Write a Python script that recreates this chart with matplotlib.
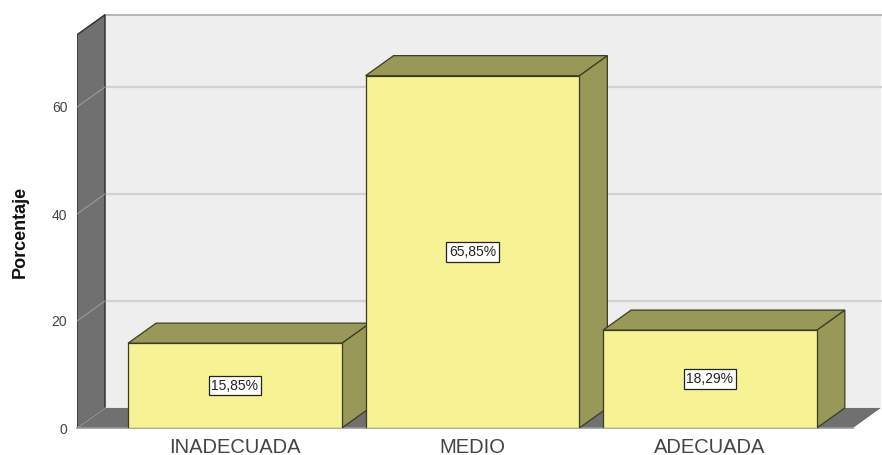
import matplotlib
matplotlib.use('Agg')
import matplotlib.pyplot as plt
from matplotlib.patches import Polygon

categories = ['INADECUADA', 'MEDIO', 'ADECUADA']
percentages = [15.85, 65.85, 18.29]
value_labels = ['15,85%', '65,85%', '18,29%']
y_ticks = [0, 20, 40, 60]

plt.rcParams['font.family'] = ['Liberation Sans', 'DejaVu Sans']

# 3d look: depth offset in data units
DX, DY = 0.118, 3.75
HALF = 0.45
X0, XR = -0.665, 2.602
WALL_TOP = 73.5

FRONT = '#f7f294'
SHADE = '#989858'
EDGE = '#3c3c22'
WALL = '#707070'

fig = plt.figure(figsize=(8.82, 4.55), dpi=100)
ax = fig.add_axes([77 / 882, 27 / 455, 805 / 882, 416 / 455])
ax.set_xlim(X0, X0 + 805 / 237.5)
ax.set_ylim(0, 416 / 5.35)
for s in ax.spines.values():
    s.set_visible(False)

# back wall + gridlines
ax.add_patch(Polygon([(X0 + DX, DY), (XR + DX, DY), (XR + DX, WALL_TOP + DY),
                      (X0 + DX, WALL_TOP + DY)], closed=True, facecolor='#eeeeee',
                     edgecolor='none', zorder=1))
ax.plot([X0 + DX, XR + DX], [WALL_TOP + DY] * 2, color='#b8b8b8', lw=1.5, zorder=2)
for v in y_ticks[1:]:
    ax.plot([X0 + DX, XR + DX], [v + DY] * 2, color='#d2d2d2', lw=1.6, zorder=2)

# left wall
ax.add_patch(Polygon([(X0, 0), (X0, WALL_TOP), (X0 + DX, WALL_TOP + DY), (X0 + DX, DY)],
                     closed=True, facecolor=WALL, edgecolor='#2a2a2a', lw=1.0, zorder=3))
for v in y_ticks:
    ax.plot([X0, X0 + DX], [v, v + DY], color='#9a9a9a', lw=0.8, zorder=4)

# floor
ax.add_patch(Polygon([(X0, 0), (XR, 0), (XR + DX, DY), (X0 + DX, DY)],
                     closed=True, facecolor=WALL, edgecolor='none', zorder=3))
ax.plot([X0, XR], [0, 0], color='#9a9a9a', lw=1.2, zorder=4, clip_on=False)

# bars
for i, (val, lab) in enumerate(zip(percentages, value_labels)):
    l, r = i - HALF, i + HALF
    ax.add_patch(Polygon([(r, 0), (r + DX, DY), (r + DX, val + DY), (r, val)], closed=True,
                         facecolor=SHADE, edgecolor=EDGE, lw=0.9, zorder=5 + i))
    ax.add_patch(Polygon([(l, val), (l + DX, val + DY), (r + DX, val + DY), (r, val)],
                         closed=True, facecolor=SHADE, edgecolor=EDGE, lw=0.9, zorder=5 + i))
    ax.add_patch(Polygon([(l, 0), (r, 0), (r, val), (l, val)], closed=True,
                         facecolor=FRONT, edgecolor=EDGE, lw=0.9, zorder=5 + i))
    ax.text(i, val / 2, lab, ha='center', va='center', fontsize=10, color='#222222',
            zorder=20, bbox=dict(boxstyle='square,pad=0.2', facecolor='white',
                                 edgecolor='#222222', lw=0.9))

ax.set_xticks(range(len(categories)))
ax.set_xticklabels(categories, fontsize=14.5, color='#444444')
ax.set_yticks(y_ticks)
ax.set_yticklabels([str(t) for t in y_ticks], fontsize=10, color='#444444')
ax.tick_params(axis='x', length=0, pad=7)
ax.tick_params(axis='y', length=0, pad=7)

fig.text(20 / 882, 1 - 232 / 455, 'Porcentaje', rotation=90, ha='center', va='center',
         fontsize=13, fontweight='bold', color='#111111')

fig.savefig('out.png', dpi=100)
